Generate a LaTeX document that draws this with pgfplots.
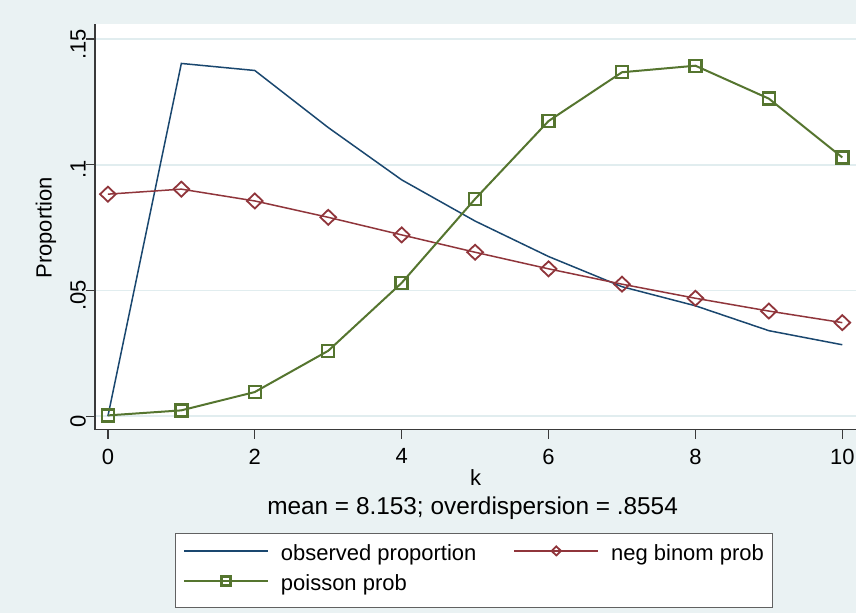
\documentclass[border=0pt]{standalone}
\usepackage{pgfplots}
\pgfplotsset{compat=1.18}
\usepackage{fontspec}
\setmainfont{Liberation Sans}
\definecolor{bg}{HTML}{EAF2F3}
\definecolor{gridc}{HTML}{E1EDEF}
\definecolor{navyc}{HTML}{1A476F}
\definecolor{maroonc}{HTML}{90353B}
\definecolor{forestc}{HTML}{55752F}
\definecolor{axisc}{HTML}{3A3A3A}
\begin{document}
\begin{tikzpicture}[font=\fontsize{22pt}{26pt}\selectfont]
\fill[bg] (0,0) rectangle (857pt,614pt);
\begin{axis}[
  at={(95pt,184pt)}, anchor=south west,
  scale only axis, width=762pt, height=406pt,
  xmin=-0.177, xmax=10.19, ymin=-0.00536, ymax=0.156,
  axis lines*=left,
  axis line style={axisc, line width=1.3pt},
  axis background/.style={fill=white},
  xtick={0,2,4,6,8,10}, xticklabels={0,2,4,6,8,10},
  ytick={0,0.05,0.1,0.15}, yticklabels={0,.05,.1,.15},
  tick align=outside, major tick length=9pt,
  tick style={axisc, line width=1.2pt},
  xticklabel style={inner sep=0pt, anchor=north, yshift=-10pt, font=\fontsize{22pt}{26pt}\selectfont},
  yticklabel style={rotate=90, inner sep=0pt, anchor=south, xshift=-5pt, font=\fontsize{22pt}{26pt}\selectfont},
  ymajorgrids, major grid style={gridc, line width=1.5pt},
  legend columns=2, legend cell align=left,
  legend style={at={(axis description cs:0.105,-0.2537)}, anchor=north west,
    draw=axisc!80, line width=0.8pt, fill=white,
    inner xsep=8pt, inner ysep=12pt, row sep=9pt,
    font=\fontsize{22pt}{26pt}\selectfont,
    nodes={inner sep=0pt, text height=16pt, text depth=5pt},
    /tikz/every odd column/.append style={column sep=12pt},
    /tikz/every even column/.append style={column sep=37pt}},
  legend image code/.code={\draw[mark repeat=2,mark phase=2,#1,line width=1.8pt,mark size=4.5pt] plot coordinates {(0pt,4.5pt) (42pt,4.5pt) (84pt,4.5pt)};},
]
\addplot[navyc, line width=1.5pt, mark=none] coordinates {
 (0,0) (1,0.1403) (2,0.1375) (3,0.1148) (4,0.0940) (5,0.0776) (6,0.0635) (7,0.0515) (8,0.0439) (9,0.0340) (10,0.0284)};
\addlegendentry{observed proportion}
\addplot[maroonc, line width=1.5pt, mark=diamond, mark size=7.5pt,
  mark options={xscale=1.4, line width=1.8pt, fill=white, solid}] coordinates {
 (0,0.0883) (1,0.0903) (2,0.0856) (3,0.0791) (4,0.0721) (5,0.0652) (6,0.0586) (7,0.0525) (8,0.0469) (9,0.0418) (10,0.0372)};
\addlegendentry{neg binom prob}
\addplot[forestc, line width=2pt, mark=square, mark size=6pt,
  mark options={line width=2.4pt, fill=white, solid}] coordinates {
 (0,0.0003) (1,0.0023) (2,0.0096) (3,0.0260) (4,0.0530) (5,0.0864) (6,0.1174) (7,0.1368) (8,0.1394) (9,0.1263) (10,0.1029)};
\addlegendentry{poisson prob}
\end{axis}
\node[rotate=90] at (46pt,386pt) {Proportion};
\node at (476pt,136pt) {k};
\node[font=\fontsize{24.4pt}{28pt}\selectfont] at (473pt,105pt) {mean = 8.153; overdispersion = .8554};
\end{tikzpicture}
\end{document}
